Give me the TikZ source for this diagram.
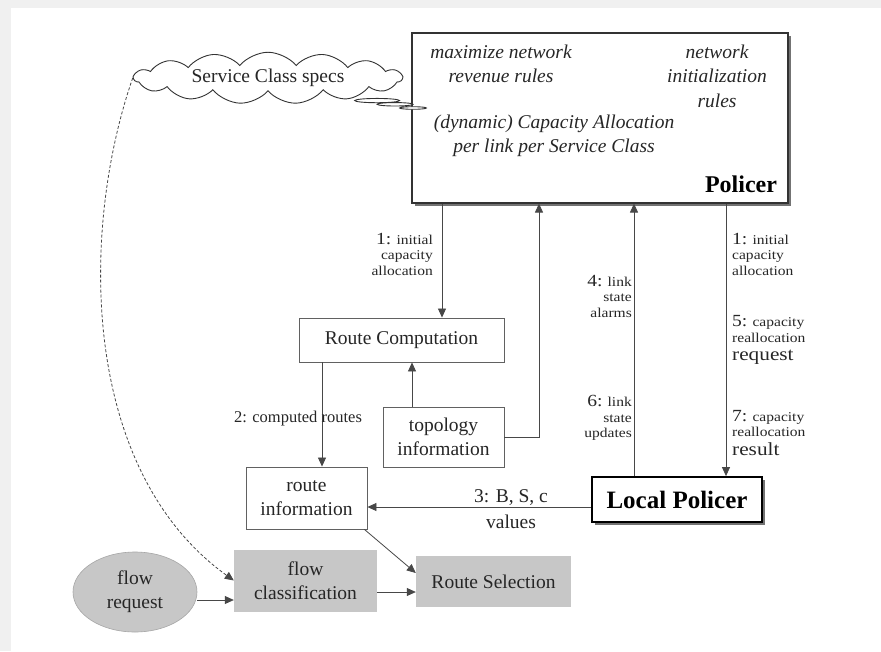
\documentclass[tikz,border=0pt]{standalone}
\usepackage{fontspec}
\setmainfont{Liberation Serif}
\newfontfamily\lblfont[FakeStretch=1.15]{Liberation Serif}
\usetikzlibrary{arrows.meta,shapes.geometric,shapes.callouts,shadows}

\newcommand{\bignum}[1]{{\fontsize{17}{15}\selectfont #1}}
\newcommand{\bigword}[1]{{\fontsize{18.5}{15}\selectfont #1}}

\begin{document}
\begin{tikzpicture}[x=1pt,y=-1pt,
  line/.style={draw=black!72, line width=0.8pt},
  arr/.style={line, -{Triangle[length=9pt,width=8pt]}},
  txt/.style={font=\fontsize{19.5}{24}\selectfont, text=black!85},
  box/.style={txt, rectangle, draw=black!62, line width=0.9pt, inner sep=0pt, align=center},
  graybox/.style={txt, rectangle, fill=black!22, inner sep=0pt, align=center},
  lbl/.style={font=\lblfont\fontsize{13.5}{15.5}\selectfont, text=black!85, inner sep=0pt},
  itxt/.style={font=\fontsize{19.5}{24.5}\selectfont\itshape, text=black!85, align=center, inner sep=0pt},
]
% page frame
\useasboundingbox (0,0) rectangle (881,651);
\fill[black!6] (0,0) rectangle (881,651);
\fill[white] (11,8) rectangle (881,651);

% policy server
\node[rectangle, draw=black!80, line width=1.1pt, fill=white, minimum width=376, minimum height=170,
      drop shadow={shadow xshift=3pt, shadow yshift=-3pt, fill=black!55, opacity=1}] (P) at (600,118) {};
\node[itxt] (p1) at (501,64) {maximize network\\revenue rules};
\node[itxt] (p2) at (717,76) {network\\initialization\\rules};
\node[itxt] (p3) at (554,136) {(dynamic) Capacity Allocation\\per link per Service Class};
\node[font=\fontsize{24}{26}\selectfont\bfseries, inner sep=0pt] (p4) at (741,184) {Policer};

% service class cloud with its callout tail
\node[cloud callout, cloud puffs=15, cloud puff arc=100, cloud ignores aspect,
      minimum width=268, minimum height=48, draw=black!80, line width=0.9pt, fill=white,
      callout absolute pointer={(413,108)}, callout pointer segments=3, txt, inner sep=2pt] (C) at (268,78) {Service Class specs};

% inner boxes
\node[box, minimum width=205, minimum height=44] (RC) at (401.5,340) {Route Computation};
\node[box, minimum width=121, minimum height=60] (TI) at (443.5,437) {topology\\information};
\node[box, minimum width=121, minimum height=62] (RI) at (306.5,498) {route\\information};
\node[rectangle, draw=black, line width=1.8pt, fill=white, minimum width=170, minimum height=45,
      font=\fontsize{25}{26}\selectfont\bfseries, inner sep=0pt,
      drop shadow={shadow xshift=3pt, shadow yshift=-3pt, fill=black!55, opacity=1}] (LP) at (677,499.5) {Local Policer};
\node[graybox, minimum width=143, minimum height=62] (FC) at (305.5,580.5) {flow\\classification};
\node[graybox, minimum width=155, minimum height=51] (RS) at (493.5,581.5) {Route Selection};
\node[ellipse, fill=black!22, draw=black!35, line width=0.6pt, minimum width=124, minimum height=80,
      txt, align=center, inner sep=0pt] (FR) at (135,592) {flow\\request};

% connector positions
\coordinate (xa) at (442,0);
\coordinate (xb) at (322,0);
\coordinate (xc) at (412,0);
\coordinate (xd) at (539,437);
\coordinate (xe) at (634,0);
\coordinate (xf) at (726,0);
\coordinate (ya) at (0,507);
\coordinate (yb) at (0,573);
\coordinate (yc) at (0,592);
\coordinate (yd) at (0,600);

% connectors
\draw[arr] (P.south -| xa) -- (RC.north -| xa);
\draw[arr] (RC.south -| xb) -- (RI.north -| xb);
\draw[arr] (TI.north -| xc) -- (RC.south -| xc);
\draw[arr] (TI.east) -- (xd) -- (P.south -| xd);
\draw[arr] (LP.north -| xe) -- (P.south -| xe);
\draw[arr] (P.south -| xf) -- (LP.north -| xf);
\draw[arr] (LP.west |- ya) -- (RI.east |- ya);
\draw[arr] ([xshift=-3pt]RI.south east) -- (RS.west |- yb);
\draw[arr] (FC.east |- yc) -- (RS.west |- yc);
\draw[arr] (FR.east |- yd) -- (FC.west |- yd);
\draw[line, dash pattern=on 3pt off 2pt, -{Triangle[length=9pt,width=8pt]}]
  (C.west) .. controls (80,230) and (80,470) .. (FC.west);

% connector labels
\node[lbl, align=right, anchor=east] (l1) at (433,254) {\bignum{1:} initial\\capacity\\allocation};
\node[lbl, align=left, anchor=west] (r1) at (732,254) {\bignum{1:} initial\\capacity\\allocation};
\node[lbl, align=left, anchor=west] (r5) at (732,340) {\bignum{5:} capacity\\reallocation\\[3pt]\bigword{request}};
\node[lbl, align=left, anchor=west] (r7) at (732,433) {\bignum{7:} capacity\\reallocation\\[3pt]\bigword{result}};
\node[lbl, align=right, anchor=east] (l4) at (632,296) {\bignum{4:} link\\state\\alarms};
\node[lbl, align=right, anchor=east] (l6) at (632,418) {\bignum{6:} link\\state\\updates};
\node[font=\fontsize{16.5}{20}\selectfont, text=black!85, inner sep=0pt] (l2) at (298,419) {2: computed routes};
\node[txt, inner sep=0pt] (l3a) at (511,498) {3: B, S, c};
\node[txt, inner sep=0pt] (l3b) at (511,522) {values};
\end{tikzpicture}
\end{document}
